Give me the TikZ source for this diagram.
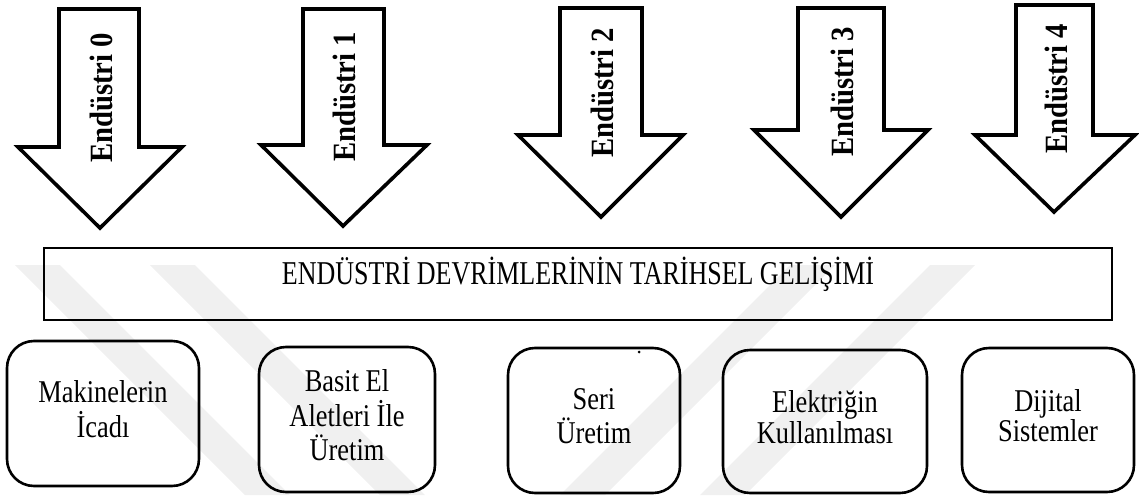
\documentclass[tikz,border=0pt]{standalone}
\usepackage{fontspec}
\setmainfont{Liberation Serif}
\usepackage{graphicx}
\definecolor{wm}{HTML}{F0F0F0}
\tikzset{
  arrowshape/.style={draw=black, fill=white, line width=3.6pt, line join=miter},
  atext/.style={font=\fontsize{28.7}{30}\selectfont\bfseries, inner sep=0pt, rotate=90},
  banner/.style={draw=black, line width=2.6pt, inner sep=0pt},
  rbox/.style={draw=black, line width=2.6pt, rounded corners=27pt, inner sep=0pt, align=center,
     font=\fontsize{26.4}{24.2}\selectfont},
  wmband/.style={fill=wm, draw=none}
}
\newcommand{\btxt}[1]{\scalebox{1}[1.2]{\begin{tabular}{@{}c@{}}#1\end{tabular}}}
\begin{document}
\begin{tikzpicture}[x=1pt,y=-1pt]
\useasboundingbox (0,0) rectangle (1139,495);
% watermark
\fill[wmband] (15,265) -- (60,265) -- (290,495) -- (245,495) -- cycle;
\fill[wmband] (150,265) -- (195,265) -- (425,495) -- (380,495) -- cycle;
\fill[wmband] (790,265) -- (835,265) -- (605,495) -- (560,495) -- cycle;
\fill[wmband] (930,265) -- (975,265) -- (745,495) -- (700,495) -- cycle;
% arrows
\draw[arrowshape] (59,9) -- (139,9) -- (139,147) -- (182,147) -- (100,228) -- (18,147) -- (59,147) -- cycle;
\draw[arrowshape] (303,9) -- (384,9) -- (384,145) -- (427,145) -- (343,226) -- (261,145) -- (303,145) -- cycle;
\draw[arrowshape] (560,8) -- (642,8) -- (642,135) -- (683,135) -- (601,217) -- (518,135) -- (560,135) -- cycle;
\draw[arrowshape] (798,8) -- (884,8) -- (884,130) -- (928,130) -- (841,217) -- (754,130) -- (798,130) -- cycle;
\draw[arrowshape] (1016,5) -- (1093,5) -- (1093,135) -- (1135,135) -- (1054,212) -- (975,135) -- (1016,135) -- cycle;
\node[atext] (e0) at (101,98) {\scalebox{1}[1.13]{Endüstri 0}};
\node[atext] (e1) at (344,97) {\scalebox{1}[1.13]{Endüstri 1}};
\node[atext] (e2) at (602,93) {\scalebox{1}[1.13]{Endüstri 2}};
\node[atext] (e3) at (842,92) {\scalebox{1}[1.13]{Endüstri 3}};
\node[atext] (e4) at (1056,89) {\scalebox{1}[1.13]{Endüstri 4}};
% banner
\node[banner, minimum width=1068pt, minimum height=72pt] (ban) at (578,284) {};
\node[anchor=base, inner sep=0pt, font=\fontsize{26}{28}\selectfont] (title) at (578,284)
  {\scalebox{1}[1.28]{ENDÜSTRİ DEVRİMLERİNİN TARİHSEL GELİŞİMİ}};
% boxes
\node[rbox, minimum width=192pt, minimum height=145pt] (b1) at (103,413.5) {\btxt{Makinelerin\\İcadı}};
\node[rbox, minimum width=176pt, minimum height=145pt] (b2) at (347,419.5) {\btxt{Basit El\\Aletleri İle\\Üretim}};
\node[rbox, minimum width=172pt, minimum height=145pt] (b3) at (594,420.5) {\btxt{Seri\\Üretim}};
\node[rbox, minimum width=204pt, minimum height=143pt] (b4) at (825,421.5) {\btxt{Elektriğin\\Kullanılması}};
\node[rbox, minimum width=172pt, minimum height=144pt] (b5) at (1048,420) {\btxt{Dijital\\Sistemler}};
\fill (639,352) circle (1.5);
\end{tikzpicture}
\end{document}
